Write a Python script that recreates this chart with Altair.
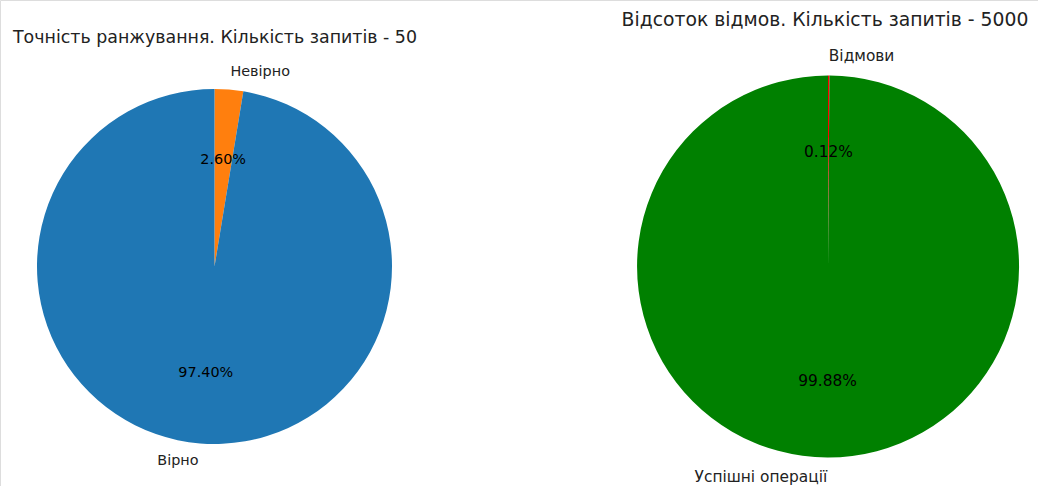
import altair as alt
import pandas as pd

# ---- data ----
left_labels = ["Невірно", "Вірно"]
left_values = [2.60, 97.40]
left_colors = ["#ff7f0e", "#1f77b4"]
left_title = "Точність ранжування. Кількість запитів - 50"

right_labels = ["Відмови", "Успішні операції"]
right_values = [0.12, 99.88]
right_colors = ["#ff0000", "#008000"]
right_title = "Відсоток відмов. Кількість запитів - 5000"

FONT = "DejaVu Sans"


def pie(labels, values, colors, cx, cy, r, fs):
    df = pd.DataFrame({"label": labels, "value": values})
    base = alt.Chart(df).transform_window(
        idx="row_number()", cum="sum(value)"
    ).transform_joinaggregate(total="sum(value)").transform_calculate(
        mid="(datum.cum - datum.value / 2) / datum.total",
        pct="format(datum.value, '.2f') + '%'",
        lab_l="datum.mid < 0.5 ? datum.label : ''",
        lab_r="datum.mid >= 0.5 ? datum.label : ''",
    )
    enc = dict(
        theta=alt.Theta("value:Q", stack=True),
        order=alt.Order("idx:Q"),
        x=alt.value(cx),
        y=alt.value(cy),
    )
    arcs = base.mark_arc(outerRadius=r).encode(
        color=alt.Color(
            "label:N",
            sort=None,
            scale=alt.Scale(domain=labels, range=colors),
            legend=None,
        ),
        **enc,
    )
    pct = base.mark_text(
        radius=0.6 * r, font=FONT, fontSize=fs, color="black",
        align="center", baseline="middle",
    ).encode(text="pct:N", **enc)
    lab_l = base.mark_text(
        radius=1.1 * r, font=FONT, fontSize=fs, color="#222222",
        align="left", baseline="middle",
    ).encode(text="lab_l:N", **enc)
    lab_r = base.mark_text(
        radius=1.1 * r, font=FONT, fontSize=fs, color="#222222",
        align="right", baseline="middle",
    ).encode(text="lab_r:N", **enc)
    return alt.layer(arcs, pct, lab_l, lab_r)


left = pie(left_labels, left_values, left_colors, 214.5, 266.5, 177.5, 14.4)
right = pie(right_labels, right_values, right_colors, 828, 266.5, 191, 15.4)

t_left = alt.Chart(pd.DataFrame({"t": [left_title]})).mark_text(
    font=FONT, fontSize=17.4, color="#222222", align="center", baseline="alphabetic"
).encode(text="t:N", x=alt.value(215), y=alt.value(42.7))
t_right = alt.Chart(pd.DataFrame({"t": [right_title]})).mark_text(
    font=FONT, fontSize=18.8, color="#222222", align="center", baseline="alphabetic"
).encode(text="t:N", x=alt.value(825), y=alt.value(26))

chart = alt.layer(left, right, t_left, t_right).resolve_scale(
    theta="independent", color="independent"
).properties(
    width=1038, height=486, padding=0, autosize=alt.AutoSizeParams(type="none")
).configure_view(stroke=None).configure(background="white")

chart.save("out.html", embed_options={"renderer": "svg", "actions": False})
